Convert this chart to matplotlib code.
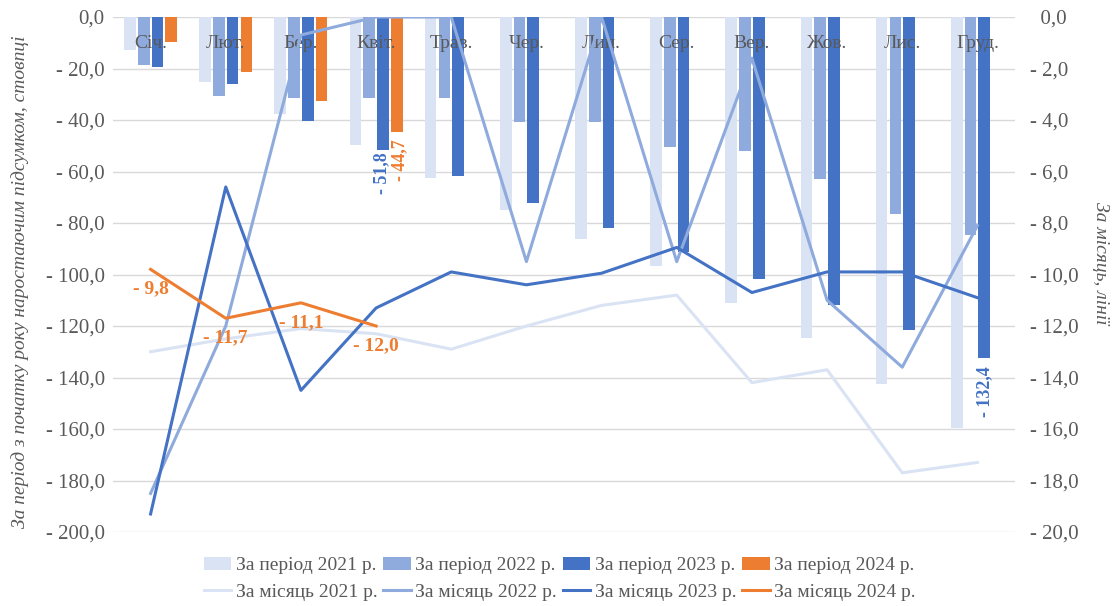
import numpy as np
import matplotlib
matplotlib.use("Agg")
import matplotlib.pyplot as plt
from matplotlib.patches import Patch
from matplotlib.lines import Line2D

plt.rcParams['font.family'] = ['Liberation Serif', 'DejaVu Serif']

months = ['Січ.', 'Лют.', 'Бер.', 'Квіт.', 'Трав.', 'Чер.', 'Лип.', 'Сер.', 'Вер.', 'Жов.', 'Лис.', 'Груд.']

# за період з початку року (стовпці, ліва вісь)
period_2021 = [-12.8, -25.3, -37.5, -49.8, -62.7, -74.8, -86.2, -96.8, -110.9, -124.7, -142.4, -159.7]
period_2022 = [-18.6, -30.7, -31.4, -31.4, -31.4, -40.9, -40.9, -50.5, -52.1, -63.1, -76.6, -84.8]
period_2023 = [-19.4, -26.0, -40.4, -51.8, -61.6, -72.2, -82.1, -91.3, -101.6, -111.7, -121.4, -132.4]
period_2024 = [-9.8, -21.5, -32.6, -44.7]

# за місяць (лінії, права вісь)
monthly_2021 = [-13.0, -12.5, -12.1, -12.3, -12.9, -12.0, -11.2, -10.8, -14.2, -13.7, -17.7, -17.3]
monthly_2022 = [-18.5, -12.0, -0.7, 0.0, 0.0, -9.5, 0.0, -9.5, -1.6, -11.0, -13.6, -8.1]
monthly_2023 = [-19.3, -6.6, -14.5, -11.3, -9.9, -10.4, -9.95, -8.95, -10.7, -9.9, -9.9, -10.9]
monthly_2024 = [-9.8, -11.7, -11.1, -12.0]

years = ['2021', '2022', '2023', '2024']
colors = ['#dae3f3', '#8faadc', '#4472c4', '#ed7d31']
grey = '#595959'


def fmt(v):
    if abs(v) < 1e-9:
        return '0,0'
    s = '{:.1f}'.format(abs(v)).replace('.', ',')
    return '- ' + s if v < 0 else s


fig = plt.figure(figsize=(11.13, 6.06), dpi=100)
ax = fig.add_axes([113 / 1113, 1 - 532 / 606, 902 / 1113, 515 / 606])
ax2 = ax.twinx()

x = np.arange(len(months))
step = 0.183
width = 0.155
periods = [period_2021, period_2022, period_2023, period_2024]
for i, vals in enumerate(periods):
    xs = x[:len(vals)] + (i - 1.5) * step
    ax.bar(xs, vals, width, color=colors[i], zorder=2)

ax.set_xlim(-0.5, 11.5)
ax.set_ylim(-200, 0)
ax.set_yticks(np.arange(-200, 1, 20))
ax.set_yticklabels([fmt(v) for v in np.arange(-200, 1, 20)])
ax.grid(axis='y', color='#d9d9d9', lw=1)
ax.set_axisbelow(True)
ax.tick_params(axis='y', length=0, pad=6, labelsize=15, labelcolor=grey)

# month names sit inside the plot, over the bars
ax.set_xticks(x)
ax.set_xticklabels(months)
ax.xaxis.set_ticks_position('top')
ax.tick_params(axis='x', length=0, pad=-25, labelsize=14, labelcolor=grey)
ax.xaxis.set_zorder(4)

for s in ax.spines.values():
    s.set_visible(False)
for s in ax2.spines.values():
    s.set_visible(False)

# bar labels: (year index, month index, x shift, y offset) in points
bar_labels = [(2, 3, -1, 1), (3, 3, 2, 5), (2, 11, 0, 6)]
for yi, mi, dx, off in bar_labels:
    v = periods[yi][mi]
    ax.annotate(fmt(v), (x[mi] + (yi - 1.5) * step, v), xytext=(dx, -off),
                textcoords='offset points', rotation=90, ha='center', va='top',
                color=colors[yi], fontsize=13, fontweight='bold', zorder=5)

monthly = [monthly_2021, monthly_2022, monthly_2023, monthly_2024]
for i, vals in enumerate(monthly):
    ax2.plot(x[:len(vals)], vals, color=colors[i], lw=2.2, zorder=3)

for xi, v in zip(x, monthly_2024):
    ax2.annotate(fmt(v), (xi, v), xytext=(0, -8), textcoords='offset points',
                 ha='center', va='top', color=colors[3], fontsize=14,
                 fontweight='bold')

ax2.set_ylim(-20, 0)
ax2.set_yticks(np.arange(-20, 1, 2))
ax2.set_yticklabels(['  0,0' if v == 0 else fmt(v) for v in np.arange(-20, 1, 2)])
ax2.tick_params(axis='y', length=0, pad=11, labelsize=15, labelcolor=grey)

fig.text(20 / 1113, 1 - 282 / 606, 'За період з початку року наростаючим підсумком, стовпці',
         rotation=90, ha='center', va='center', fontsize=14, style='italic', color=grey)
fig.text(1100 / 1113, 1 - 263 / 606, 'За місяць, лінії', rotation=270,
         ha='center', va='center', fontsize=14, style='italic', color=grey)

handles = []
labels = []
for i, y in enumerate(years):
    handles.append(Patch(facecolor=colors[i]))
    labels.append('За період {} р.'.format(y))
    handles.append(Line2D([], [], color=colors[i], lw=2.2))
    labels.append('За місяць {} р.'.format(y))
fig.legend(handles, labels, ncol=4, loc='center', bbox_to_anchor=(0.503, 0.045),
           frameon=False, fontsize=14, labelcolor=grey, handlelength=1.4,
           handletextpad=0.25, columnspacing=0.3, labelspacing=0.45)

fig.savefig('out.png', dpi=100)
